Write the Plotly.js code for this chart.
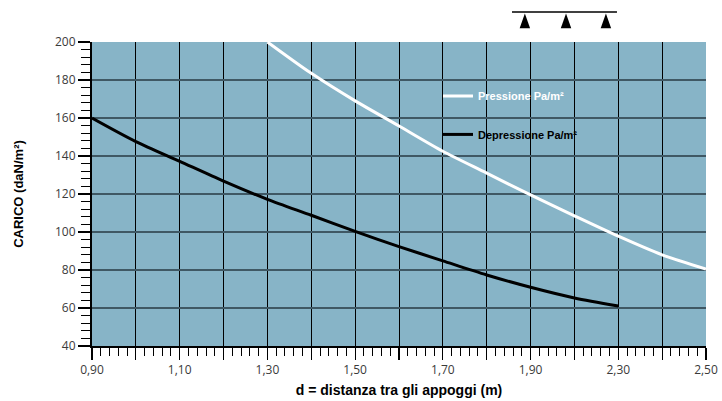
<!DOCTYPE html>
<html>
<head>
<meta charset="utf-8">
<script src="https://cdn.plot.ly/plotly-3.0.1.min.js"></script>
<style>
  html, body { margin: 0; padding: 0; background: #ffffff; }
  #chart { width: 722px; height: 401px; }
</style>
</head>
<body>
<div id="chart"></div>
<script>
// Grid positions of the x axis (evenly spaced columns) and the printed tick labels
const xTickPos = [0.9, 1.1, 1.3, 1.5, 1.7, 1.9, 2.1, 2.3];
const xTickText = ["0,90", "1,10", "1,30", "1,50", "1,70", "1,90", "2,30", "2,50"];
const yTickVals = [40, 60, 80, 100, 120, 140, 160, 180, 200];

// Pressione Pa/m² (white curve)
const pressioneX = [1.3, 1.4, 1.5, 1.6, 1.7, 1.8, 1.9, 2.0, 2.1, 2.2, 2.3];
const pressioneY = [200, 183.5, 169, 155.8, 142.5, 131, 119.5, 108.5, 97.8, 88, 80.5];

// Depressione Pa/m² (black curve)
const depressioneX = [0.9, 1.0, 1.1, 1.2, 1.3, 1.4, 1.5, 1.6, 1.7, 1.8, 1.9, 2.0, 2.1];
const depressioneY = [160, 147.6, 137.2, 126.8, 117.2, 108.8, 100.3, 92.3, 84.8, 77.4, 70.9, 65.3, 61];

const names = ["Pressione Pa/m²", "Depressione Pa/m²"];

const traces = [
  {
    x: pressioneX, y: pressioneY, name: names[0], type: "scatter", mode: "lines",
    line: { color: "#ffffff", width: 3, shape: "spline", smoothing: 0.8 },
    legend: "legend", hoverinfo: "skip"
  },
  {
    x: depressioneX, y: depressioneY, name: names[1], type: "scatter", mode: "lines",
    line: { color: "#000000", width: 3, shape: "spline", smoothing: 0.8 },
    legend: "legend2", hoverinfo: "skip"
  }
];

// helper for the decorative support icon (paper coordinates)
const tri = (cx) => `M ${cx - 0.0085},1.045 L ${cx + 0.0085},1.045 L ${cx},1.094 Z`;

const layout = {
  width: 722, height: 401,
  margin: { l: 92, r: 16, t: 42, b: 55 },
  paper_bgcolor: "#ffffff",
  plot_bgcolor: "#87b4c7",
  font: { family: "Open Sans, Liberation Sans, sans-serif", size: 12, color: "#333333" },
  showlegend: true,
  xaxis: {
    range: [0.9, 2.3],
    tickmode: "array",
    tickvals: [0.9, 1.0, 1.1, 1.2, 1.3, 1.4, 1.5, 1.6, 1.7, 1.8, 1.9, 2.0, 2.1, 2.2, 2.3],
    ticktext: xTickPos.flatMap((p, i) => i < xTickPos.length - 1 ? [xTickText[i], ""] : [xTickText[i]]),
    ticks: "outside", ticklen: 12, tickwidth: 1.2, tickcolor: "#000000",
    minor: { dtick: 0.02, tick0: 0.9, ticks: "outside", ticklen: 8, tickwidth: 1, tickcolor: "#000000", showgrid: false },
    showgrid: true, gridcolor: "#000000", gridwidth: 1,
    showline: true, linecolor: "#000000", linewidth: 2,
    zeroline: false, fixedrange: true,
    tickfont: { family: "Open Sans, sans-serif", size: 12, color: "#3a3a3a" },
    title: {
      text: "d = distanza tra gli appoggi (m)",
      font: { family: "Liberation Sans, Arial, sans-serif", size: 14, color: "#000000", weight: "bold" },
      standoff: 8
    }
  },
  yaxis: {
    range: [40, 200],
    tickmode: "array", tickvals: yTickVals,
    ticks: "outside", ticklen: 12, tickwidth: 1.2, tickcolor: "#000000",
    minor: { dtick: 4, tick0: 40, ticks: "outside", ticklen: 9, tickwidth: 1, tickcolor: "#000000", showgrid: false },
    showgrid: true, gridcolor: "#3f5864", gridwidth: 2,
    showline: true, linecolor: "#000000", linewidth: 2,
    zeroline: false, fixedrange: true,
    tickfont: { family: "Open Sans, sans-serif", size: 12, color: "#3a3a3a" },
    title: {
      text: "CARICO (daN/m²)",
      font: { family: "Liberation Sans, Arial, sans-serif", size: 13, color: "#000000", weight: "bold" },
      standoff: 28
    }
  },
  legend: {
    x: 0.5635, xanchor: "left", y: 0.822, yanchor: "middle",
    bgcolor: "rgba(0,0,0,0)", borderwidth: 0,
    font: { family: "Liberation Sans, Arial, sans-serif", size: 11, color: "#ffffff", weight: "bold" }
  },
  legend2: {
    x: 0.5635, xanchor: "left", y: 0.696, yanchor: "middle",
    bgcolor: "rgba(0,0,0,0)", borderwidth: 0,
    font: { family: "Liberation Sans, Arial, sans-serif", size: 11, color: "#000000", weight: "bold" }
  },
  shapes: [
    { type: "line", xref: "paper", yref: "paper", x0: 0.684, x1: 0.855, y0: 1.099, y1: 1.099,
      line: { color: "#000000", width: 1.5 } },
    { type: "path", xref: "paper", yref: "paper", path: tri(0.705), fillcolor: "#000000", line: { width: 0 } },
    { type: "path", xref: "paper", yref: "paper", path: tri(0.772), fillcolor: "#000000", line: { width: 0 } },
    { type: "path", xref: "paper", yref: "paper", path: tri(0.837), fillcolor: "#000000", line: { width: 0 } }
  ]
};

Plotly.newPlot("chart", traces, layout, { staticPlot: true, displayModeBar: false });
</script>
</body>
</html>
